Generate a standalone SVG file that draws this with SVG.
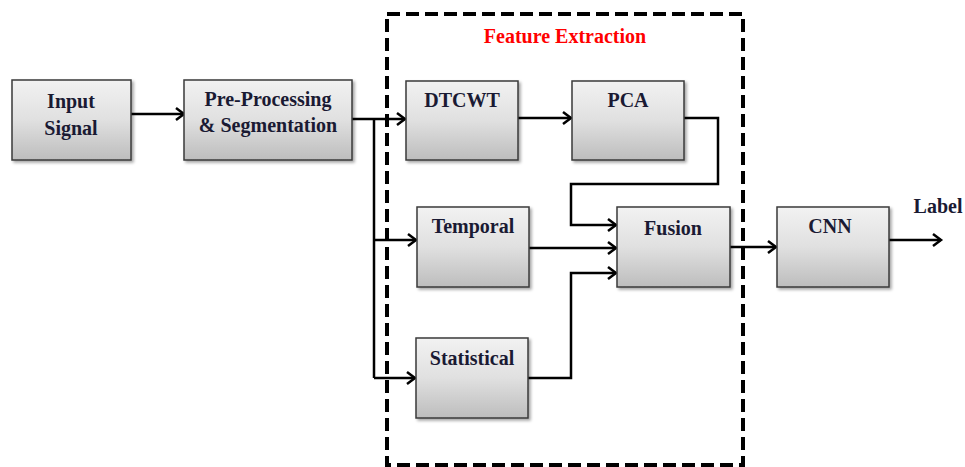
<svg xmlns="http://www.w3.org/2000/svg" width="965" height="467" viewBox="0 0 965 467">
<defs>
<linearGradient id="g" x1="0" y1="0" x2="0" y2="1">
<stop offset="0" stop-color="#f2f2f2"/>
<stop offset="0.5" stop-color="#e0e0e0"/>
<stop offset="1" stop-color="#bdbdbd"/>
</linearGradient>
<filter id="sh" x="-10%" y="-10%" width="130%" height="130%">
<feDropShadow dx="2" dy="2" stdDeviation="1.5" flood-color="#000" flood-opacity="0.35"/>
</filter>
<marker id="ah" markerWidth="14" markerHeight="14" refX="11" refY="7" orient="auto" markerUnits="userSpaceOnUse">
<path d="M3,1 L11,7 L3,13" fill="none" stroke="#000" stroke-width="2.5"/>
</marker>
</defs>
<style>
.box{fill:url(#g);stroke:#3a3a3a;stroke-width:1.5;filter:url(#sh)}
.t{font-family:"Liberation Serif","Times New Roman",serif;font-weight:bold;font-size:20px;fill:#1a1a33;text-anchor:middle}
.c{fill:none;stroke:#000;stroke-width:2.5}
.a{marker-end:url(#ah)}
</style>
<rect width="965" height="467" fill="#fff"/>
<g id="feature-extraction-frame">
<rect x="387" y="14" width="356" height="451" fill="none" stroke="#000" stroke-width="4" stroke-dasharray="13,6"/>
<text x="565" y="43" class="t" style="fill:#ff0000">Feature Extraction</text>
</g>
<g id="connectors">
<path class="c a" d="M131,114 L184,114"/>
<path class="c a" d="M352,119 L405,119"/>
<path class="c" d="M374,119 L374,378"/>
<path class="c a" d="M374,240 L416,240"/>
<path class="c a" d="M374,378 L415,378"/>
<path class="c a" d="M518,118 L571,118"/>
<path class="c a" d="M684,118 L718,118 L718,184 L571,184 L571,225 L616,225"/>
<path class="c a" d="M529,248 L616,248"/>
<path class="c a" d="M528,378 L571,378 L571,273 L616,273"/>
<path class="c a" d="M730,247 L776,247"/>
<path class="c a" d="M889,240 L941,240"/>
</g>
<g id="input-signal">
<rect class="box" x="12" y="80" width="119" height="80"/>
<text class="t" x="71" y="108">Input</text>
<text class="t" x="71" y="135">Signal</text>
</g>
<g id="preprocessing">
<rect class="box" x="184" y="80" width="168" height="80"/>
<text class="t" x="268" y="106">Pre-Processing</text>
<text class="t" x="268" y="132">&amp; Segmentation</text>
</g>
<g id="dtcwt">
<rect class="box" x="406" y="81" width="112" height="79"/>
<text class="t" x="462" y="107">DTCWT</text>
</g>
<g id="pca">
<rect class="box" x="572" y="81" width="112" height="79"/>
<text class="t" x="628" y="107">PCA</text>
</g>
<g id="temporal">
<rect class="box" x="417" y="207" width="112" height="80"/>
<text class="t" x="473" y="233">Temporal</text>
</g>
<g id="fusion">
<rect class="box" x="617" y="207" width="113" height="80"/>
<text class="t" x="673" y="235">Fusion</text>
</g>
<g id="statistical">
<rect class="box" x="416" y="338" width="112" height="80"/>
<text class="t" x="472" y="365">Statistical</text>
</g>
<g id="cnn">
<rect class="box" x="777" y="207" width="112" height="80"/>
<text class="t" x="830" y="233">CNN</text>
</g>
<g id="label">
<text class="t" x="938" y="213">Label</text>
</g>
</svg>
